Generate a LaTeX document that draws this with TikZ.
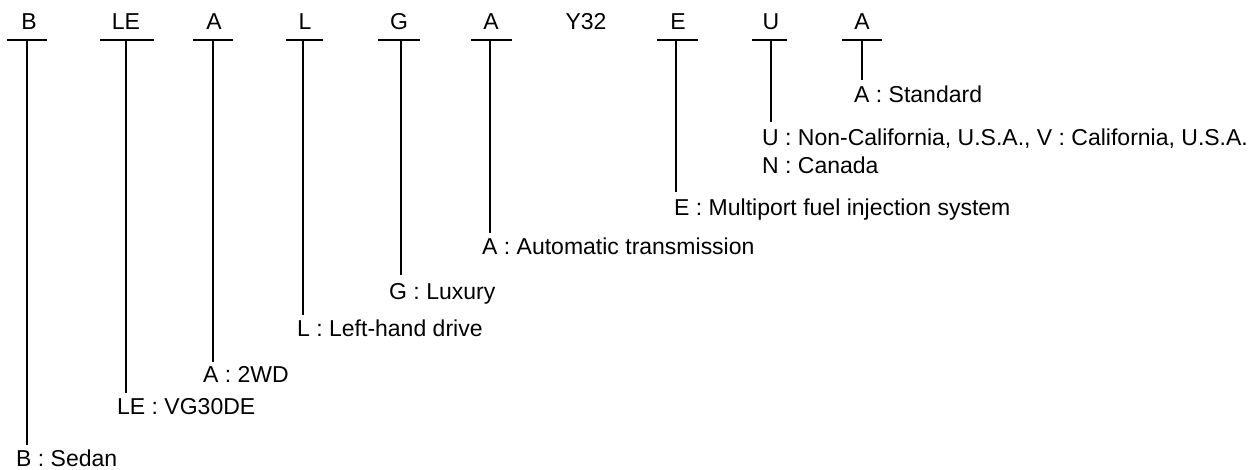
\documentclass[tikz,border=0pt]{standalone}
\usepackage{fontspec}
\setmainfont{Liberation Sans}
\begin{document}
\begin{tikzpicture}[x=1pt,y=-1pt,
  code/.style={font=\fontsize{23}{27}\selectfont, anchor=base, inner sep=0pt},
  lbl/.style={font=\fontsize{23}{27}\selectfont, anchor=base west, inner sep=0pt},
  bar/.style={line width=2.8pt},
  stem/.style={line width=2pt}]
\useasboundingbox (0,0) rectangle (1254,470);
% top codes
\node[code] (tB)  at (29,30)  {B};
\node[code] (tLE) at (126,30) {LE};
\node[code] (tA1) at (214,30) {A};
\node[code] (tL)  at (305,30) {L};
\node[code] (tG)  at (399,30) {G};
\node[code] (tA2) at (491,30) {A};
\node[code] (tY)  at (586,30) {Y32};
\node[code] (tE)  at (678,30) {E};
\node[code] (tU)  at (771,30) {U};
\node[code] (tA3) at (862,30) {A};
% bars
\foreach \n/\a/\b in {B/7/47, LE/100/154, A1/193/233, L/286/323, G/378/420, A2/471/512, E/657/698, U/752/787, A3/842/882}{
  \coordinate (l\n) at (\a,40);
  \coordinate (r\n) at (\b,40);
  \draw[bar] (l\n) -- (r\n);
}
% stem tops
\coordinate (sB)  at (27,40);
\coordinate (sLE) at (126,40);
\coordinate (sA1) at (213,40);
\coordinate (sL)  at (303,40);
\coordinate (sG)  at (401,40);
\coordinate (sA2) at (490,40);
\coordinate (sE)  at (676,40);
\coordinate (sU)  at (771,40);
\coordinate (sA3) at (862,40);
% stem ends
\coordinate (eB)  at (27,445);
\coordinate (eLE) at (126,393);
\coordinate (eA1) at (213,362);
\coordinate (eL)  at (303,315);
\coordinate (eG)  at (401,275);
\coordinate (eA2) at (490,233);
\coordinate (eE)  at (676,192);
\coordinate (eU)  at (771,122);
\coordinate (eA3) at (862,80);
\foreach \n in {B,LE,A1,L,G,A2,E,U}{ \draw[stem] (s\n) -- (e\n); }
\draw[line width=1.4pt] (sA3) -- (eA3);
% labels
\node[lbl] (dB)  at (16,467)  {B : Sedan};
\node[lbl] (dLE) at (117,415) {LE : VG30DE};
\node[lbl] (dA1) at (203,383) {A : 2WD};
\node[lbl] (dL)  at (297,337) {L : Left-hand drive};
\node[lbl] (dG)  at (389,300) {G : Luxury};
\node[lbl] (dA2) at (482,255) {A : Automatic transmission};
\node[lbl] (dE)  at (674,216) {E : Multiport fuel injection system};
\node[lbl] (dU)  at (762,146) {U : Non-California, U.S.A., V : California, U.S.A.};
\node[lbl] (dN)  at (762,174) {N : Canada};
\node[lbl] (dA3) at (854,103) {A : Standard};
\end{tikzpicture}
\end{document}
